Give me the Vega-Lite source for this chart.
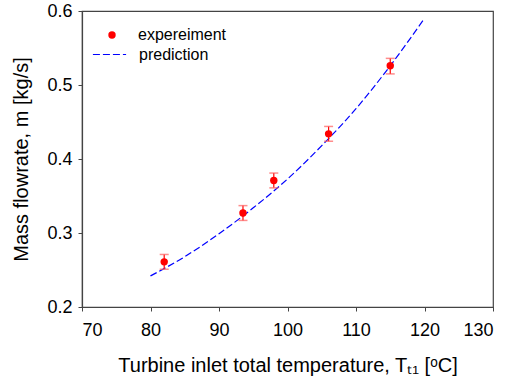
{
  "$schema": "https://vega.github.io/schema/vega-lite/v6.json",
  "width": 411,
  "height": 296,
  "autosize": {"type": "none"},
  "padding": {"left": 82, "top": 11, "right": 26, "bottom": 77},
  "background": "white",
  "datasets": {
    "exp": [
      {"T": 82.0, "m": 0.261, "lo": 0.251, "hi": 0.271, "series": "expereiment"},
      {"T": 93.5, "m": 0.327, "lo": 0.317, "hi": 0.337, "series": "expereiment"},
      {"T": 98.0, "m": 0.371, "lo": 0.361, "hi": 0.381, "series": "expereiment"},
      {"T": 106.0, "m": 0.434, "lo": 0.424, "hi": 0.444, "series": "expereiment"},
      {"T": 115.0, "m": 0.526, "lo": 0.515, "hi": 0.536, "series": "expereiment"}
    ],
    "pred": [
      {"T": 80, "m": 0.242, "series": "prediction"},
      {"T": 85, "m": 0.268, "series": "prediction"},
      {"T": 90, "m": 0.299, "series": "prediction"},
      {"T": 95, "m": 0.334, "series": "prediction"},
      {"T": 100, "m": 0.373, "series": "prediction"},
      {"T": 105, "m": 0.418, "series": "prediction"},
      {"T": 110, "m": 0.468, "series": "prediction"},
      {"T": 115, "m": 0.526, "series": "prediction"},
      {"T": 120, "m": 0.590, "series": "prediction"}
    ]
  },
  "layer": [
    {
      "data": {"name": "pred"},
      "mark": {"type": "line", "color": "blue", "strokeWidth": 1.2, "interpolate": "monotone"},
      "encoding": {
        "x": {"field": "T", "type": "quantitative"},
        "y": {"field": "m", "type": "quantitative"},
        "strokeDash": {
          "field": "series", "type": "nominal",
          "scale": {"domain": ["prediction"], "range": [[7, 3]]},
          "legend": {
            "orient": "none", "legendX": 10, "legendY": 26, "title": null,
            "labelFont": "Liberation Sans", "labelFontSize": 16, "labelColor": "black",
            "symbolType": "stroke", "symbolSize": 1100, "symbolStrokeWidth": 1.2,
            "symbolStrokeColor": "blue", "labelOffset": 12,
            "encode": {"symbols": {"update": {"stroke": {"value": "blue"}}}}
          }
        }
      }
    },
    {
      "data": {"name": "exp"},
      "mark": {"type": "rule", "color": "red", "strokeWidth": 1.2},
      "encoding": {
        "x": {"field": "T", "type": "quantitative"},
        "y": {"field": "lo", "type": "quantitative"},
        "y2": {"field": "hi"}
      }
    },
    {
      "data": {"name": "exp"},
      "mark": {"type": "tick", "color": "#ff5c5c", "size": 9, "thickness": 1.5, "orient": "horizontal"},
      "encoding": {
        "x": {"field": "T", "type": "quantitative"},
        "y": {"field": "lo", "type": "quantitative"}
      }
    },
    {
      "data": {"name": "exp"},
      "mark": {"type": "tick", "color": "#ff5c5c", "size": 9, "thickness": 1.5, "orient": "horizontal"},
      "encoding": {
        "x": {"field": "T", "type": "quantitative"},
        "y": {"field": "hi", "type": "quantitative"}
      }
    },
    {
      "data": {"name": "exp"},
      "mark": {"type": "point", "filled": true, "color": "red", "size": 55, "opacity": 1},
      "encoding": {
        "x": {
          "field": "T", "type": "quantitative",
          "scale": {"domain": [70, 130], "nice": false, "zero": false},
          "axis": {"values": [70, 80, 90, 100, 110, 120, 130], "title": "Turbine inlet total temperature, Tₜ₁ [ᵒC]"}
        },
        "y": {
          "field": "m", "type": "quantitative",
          "scale": {"domain": [0.2, 0.6], "nice": false, "zero": false},
          "axis": {"values": [0.2, 0.3, 0.4, 0.5, 0.6], "format": ".1f", "title": "Mass flowrate, m [kg/s]"}
        },
        "shape": {
          "field": "series", "type": "nominal",
          "scale": {"domain": ["expereiment"], "range": ["circle"]},
          "legend": {
            "orient": "none", "legendX": 22, "legendY": 16, "title": null,
            "labelFont": "Liberation Sans", "labelFontSize": 16, "labelColor": "black",
            "symbolSize": 55, "symbolFillColor": "red", "symbolStrokeColor": "red", "symbolOpacity": 1,
            "labelOffset": 18
          }
        }
      }
    }
  ],
  "config": {
    "view": {"stroke": "#444", "strokeWidth": 1.2},
    "axis": {
      "grid": false,
      "domainColor": "#444",
      "domainWidth": 1.2,
      "tickColor": "#444",
      "tickSize": 4,
      "labelFont": "Liberation Sans",
      "labelFontSize": 18,
      "labelColor": "black",
      "titleFont": "Liberation Sans",
      "titleFontSize": 20,
      "titleFontWeight": "normal",
      "titleColor": "black"
    },
    "axisX": {"labelPadding": 10, "titlePadding": 16},
    "axisY": {"labelPadding": 6, "titlePadding": 15}
  }
}
